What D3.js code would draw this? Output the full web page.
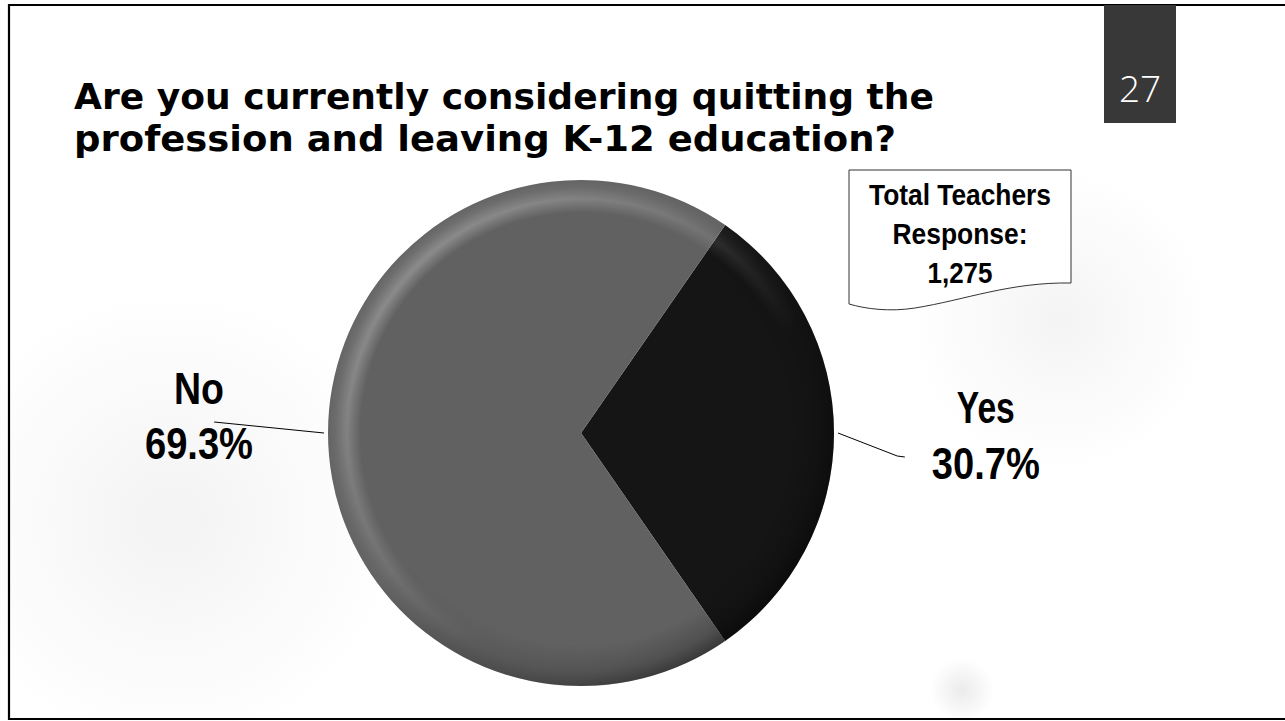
<!DOCTYPE html>
<html>
<head>
<meta charset="utf-8">
<script src="https://cdn.jsdelivr.net/npm/d3@7"></script>
<style>
  html, body { margin: 0; padding: 0; background: #ffffff; overflow: hidden; }
  svg { display: block; }
</style>
</head>
<body>
<script>
// ---- data ----
const categories = ["Yes", "No"];
const shares = [30.7, 69.3];
const shareLabels = ["30.7%", "69.3%"];
const sliceColors = ["#151515", "#616161"];
const titleLines = [
  "Are you currently considering quitting the",
  "profession and leaving K-12 education?"
];
const calloutLines = ["Total Teachers", "Response:", "1,275"];
const slideNumber = "27";

// ---- layout ----
const W = 1285, H = 721;
const cx = 581, cy = 433, R = 253;
const labelFont = "'Liberation Sans Narrow', 'Arial Narrow', 'Liberation Sans', Arial, sans-serif";
const titleFont = "'DejaVu Sans', 'Liberation Sans', sans-serif";

const svg = d3.select("body").append("svg")
  .attr("width", W).attr("height", H);
const defs = svg.append("defs");

// soft background haze
const blobs = [
  { id: "hazeL", x: 170, y: 520, r: 230, c: "#f3f3f3" },
  { id: "hazeR", x: 1060, y: 320, r: 150, c: "#f4f4f4" },
  { id: "hazeB", x: 962, y: 690, r: 32, c: "#ebebeb" }
];
blobs.forEach(b => {
  const g = defs.append("radialGradient").attr("id", b.id);
  g.append("stop").attr("offset", 0).attr("stop-color", b.c).attr("stop-opacity", 1);
  g.append("stop").attr("offset", 0.5).attr("stop-color", b.c).attr("stop-opacity", 0.5);
  g.append("stop").attr("offset", 1).attr("stop-color", b.c).attr("stop-opacity", 0);
  svg.append("circle").attr("cx", b.x).attr("cy", b.y).attr("r", b.r)
    .attr("fill", `url(#${b.id})`);
});

// slide frame
svg.append("path")
  .attr("d", `M${W},5 H9 V719 H${W}`)
  .attr("fill", "none").attr("stroke", "#000").attr("stroke-width", 2.2);

// slide number tab
svg.append("rect").attr("x", 1104).attr("y", 5).attr("width", 72).attr("height", 118)
  .attr("fill", "#383838");
svg.append("text").attr("x", 1140).attr("y", 102)
  .attr("text-anchor", "middle")
  .attr("font-family", "'Open Sans', 'Liberation Sans', sans-serif")
  .attr("font-weight", 300)
  .attr("font-size", 37).attr("fill", "#ffffff")
  .text(slideNumber);

// title
const titleWidths = [860, 822];
svg.append("g").selectAll("text").data(titleLines).join("text")
  .attr("x", 74).attr("y", (d, i) => 109 + i * 42)
  .attr("font-family", titleFont).attr("font-weight", "bold")
  .attr("font-size", 36).attr("fill", "#000")
  .attr("textLength", (d, i) => titleWidths[i])
  .attr("lengthAdjust", "spacingAndGlyphs")
  .text(d => d);

// ---- pie ----
const data = categories.map((c, i) => ({ name: c, value: shares[i], label: shareLabels[i], color: sliceColors[i] }));
const a0 = Math.PI / 2 - Math.PI * shares[0] / 100; // centre the first slice on 3 o'clock
const pie = d3.pie().sort(null).value(d => d.value)
  .startAngle(a0).endAngle(a0 + 2 * Math.PI);
const arc = d3.arc().innerRadius(0).outerRadius(R);
const arcs = pie(data);

const pieG = svg.append("g").attr("transform", `translate(${cx},${cy})`);
pieG.selectAll("path.slice").data(arcs).join("path")
  .attr("class", "slice")
  .attr("d", arc)
  .attr("fill", d => d.data.color);

// bevel: light rim top-left, dark rim bottom-right
function rimGradient(id, color, stops) {
  const g = defs.append("radialGradient").attr("id", id)
    .attr("gradientUnits", "userSpaceOnUse")
    .attr("cx", 0).attr("cy", 0).attr("r", R);
  stops.forEach(s => g.append("stop").attr("offset", s[0])
    .attr("stop-color", color).attr("stop-opacity", s[1]));
}
rimGradient("rimLight", "#ffffff", [[0, 0], [0.87, 0], [0.925, 0.3], [0.97, 0.1], [1, 0.03]]);
rimGradient("rimDark", "#000000", [[0, 0], [0.84, 0], [0.94, 0.22], [1, 0.5]]);

function maskFade(id, x1, y1, x2, y2) {
  const lg = defs.append("linearGradient").attr("id", id + "G")
    .attr("x1", x1).attr("y1", y1).attr("x2", x2).attr("y2", y2);
  lg.append("stop").attr("offset", 0).attr("stop-color", "#fff");
  lg.append("stop").attr("offset", 1).attr("stop-color", "#000");
  defs.append("mask").attr("id", id)
    .attr("maskUnits", "userSpaceOnUse")
    .attr("x", -R).attr("y", -R).attr("width", 2 * R).attr("height", 2 * R)
    .append("rect").attr("x", -R).attr("y", -R).attr("width", 2 * R).attr("height", 2 * R)
    .attr("fill", `url(#${id}G)`);
}
maskFade("maskTL", 0.12, 0.12, 0.62, 0.62);
maskFade("maskBR", 0.92, 0.92, 0.45, 0.45);

pieG.append("circle").attr("r", R).attr("fill", "url(#rimLight)").attr("mask", "url(#maskTL)");
pieG.append("circle").attr("r", R).attr("fill", "url(#rimDark)").attr("mask", "url(#maskBR)");

// ---- data labels with leader lines ----
const labelLayout = {
  Yes: { dist: 1.6, nameDy: -10, valueDy: 46, nameW: 58, valueW: 108,
         leader: p => [p, [cx + R * 1.25, cy + 23], [cx + R * 1.28, cy + 24]] },
  No:  { dist: 1.51, nameDy: -29, valueDy: 26, nameW: 50, valueW: 108,
         leader: p => [p, [cx - R * 1.45, cy - 11]] }
};
const labelG = svg.append("g");
arcs.forEach(a => {
  const mid = (a.startAngle + a.endAngle) / 2;
  const L = labelLayout[a.data.name];
  const ux = Math.sin(mid), uy = -Math.cos(mid);
  const edge = [cx + ux * (R + 4), cy + uy * (R + 4)];
  labelG.append("path")
    .attr("d", d3.line()(L.leader(edge)))
    .attr("fill", "none").attr("stroke", "#000").attr("stroke-width", 1);
  const lx = cx + ux * R * L.dist;
  const ly = cy + uy * R * L.dist;
  labelG.append("text").attr("x", lx).attr("y", ly + L.nameDy)
    .attr("text-anchor", "middle").attr("font-family", labelFont)
    .attr("font-weight", "bold").attr("font-size", 45)
    .attr("textLength", L.nameW).attr("lengthAdjust", "spacingAndGlyphs")
    .text(a.data.name);
  labelG.append("text").attr("x", lx).attr("y", ly + L.valueDy)
    .attr("text-anchor", "middle").attr("font-family", labelFont)
    .attr("font-weight", "bold").attr("font-size", 45)
    .attr("textLength", L.valueW).attr("lengthAdjust", "spacingAndGlyphs")
    .text(a.data.label);
});

// ---- callout box ----
const callG = svg.append("g");
callG.append("path")
  .attr("d", "M849,170 H1071 V283 C1010,282 965,300 915,308 C890,312 866,309 849,304 Z")
  .attr("fill", "#ffffff").attr("stroke", "#333").attr("stroke-width", 1);
const callWidths = [182, 135, 65];
callG.selectAll("text").data(calloutLines).join("text")
  .attr("x", 960).attr("y", (d, i) => [205, 244, 283][i])
  .attr("text-anchor", "middle").attr("font-family", labelFont)
  .attr("font-weight", "bold").attr("font-size", 30).attr("fill", "#000")
  .attr("textLength", (d, i) => callWidths[i]).attr("lengthAdjust", "spacingAndGlyphs")
  .text(d => d);
</script>
</body>
</html>
